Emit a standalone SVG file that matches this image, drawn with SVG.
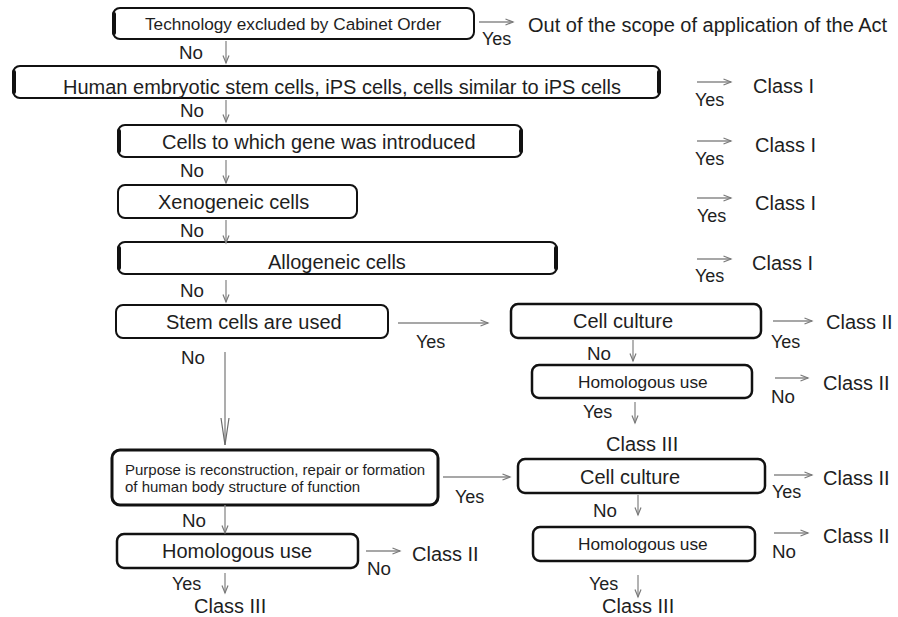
<svg xmlns="http://www.w3.org/2000/svg" width="898" height="617" viewBox="0 0 898 617">
<style>
.box{fill:#fff;stroke:#111;stroke-width:2}
.thick{stroke:#111;stroke-width:4;fill:none;stroke-linecap:round}
.t{font-family:"Liberation Sans",Arial,sans-serif;font-size:20px;fill:#1e1e1e}
.s{font-family:"Liberation Sans",Arial,sans-serif;font-size:17.3px;fill:#1e1e1e}
.p{font-family:"Liberation Sans",Arial,sans-serif;font-size:15px;fill:#1e1e1e}
.a{stroke:#8a8a8a;stroke-width:1.3;fill:none;marker-end:url(#ah)}
</style>
<defs>
<marker id="ah" markerUnits="userSpaceOnUse" markerWidth="10" markerHeight="8" refX="8" refY="4" orient="auto">
<path d="M0.5,1 L8,4 L0.5,7" fill="none" stroke="#7a7a7a" stroke-width="1.2"/>
</marker>
</defs>
<rect width="898" height="617" fill="#fff"/>

<g id="n1">
<rect class="box" x="113" y="8" width="361" height="31" rx="7"/>
<path class="thick" d="M114,14 V33"/>
<text class="t" x="145" y="30" style="font-size:17.2px">Technology excluded by Cabinet Order</text>
</g>
<g id="o1"><text class="t" x="528" y="32">Out of the scope of application of the Act</text></g>

<g id="n2">
<rect class="box" x="13" y="66" width="647" height="32" rx="7"/>
<path class="thick" d="M14,72 V92 M659,72 V92"/>
<text class="t" x="63" y="94">Human embryotic stem cells, iPS cells, cells similar to iPS cells</text>
</g>

<g id="n3">
<rect class="box" x="118" y="125" width="404" height="32" rx="7"/>
<path class="thick" d="M119,131 V151 M521,131 V151"/>
<text class="t" x="162" y="149">Cells to which gene was introduced</text>
</g>

<g id="n4">
<rect class="box" x="118" y="185" width="239" height="33" rx="7"/>
<text class="t" x="158" y="209">Xenogeneic cells</text>
</g>

<g id="n5">
<rect class="box" x="118" y="242" width="439" height="32" rx="7"/>
<path class="thick" d="M119,248 V268 M556,248 V268"/>
<text class="t" x="268" y="269">Allogeneic cells</text>
</g>

<g id="n6">
<rect class="box" x="116" y="305" width="272" height="33" rx="7"/>
<text class="t" x="166" y="329">Stem cells are used</text>
</g>

<g id="n7">
<rect class="box" x="511" y="304" width="250" height="34" rx="7" style="stroke-width:2.5"/>
<text class="t" x="573" y="328">Cell culture</text>
</g>

<g id="n8">
<rect class="box" x="532" y="365" width="220" height="33" rx="7" style="stroke-width:2.5"/>
<text class="s" x="578" y="388">Homologous use</text>
</g>

<g id="n9">
<rect class="box" x="112" y="450" width="326" height="55" rx="8" style="stroke-width:3"/>
<text class="p" x="125" y="475">Purpose is reconstruction, repair or formation</text>
<text class="p" x="125" y="492">of human body structure of function</text>
</g>

<g id="n10">
<rect class="box" x="518" y="459" width="247" height="34" rx="7" style="stroke-width:2.5"/>
<text class="t" x="580" y="484">Cell culture</text>
</g>

<g id="n11">
<rect class="box" x="117" y="534" width="241" height="34" rx="7" style="stroke-width:2.5"/>
<text class="t" x="162" y="558">Homologous use</text>
</g>

<g id="n12">
<rect class="box" x="533" y="527" width="222" height="34" rx="7" style="stroke-width:2.5"/>
<text class="s" x="578" y="550">Homologous use</text>
</g>

<g id="results">
<text class="t" x="753" y="93">Class I</text>
<text class="t" x="755" y="152">Class I</text>
<text class="t" x="755" y="210">Class I</text>
<text class="t" x="752" y="270">Class I</text>
<text class="t" x="826" y="329">Class II</text>
<text class="t" x="823" y="390">Class II</text>
<text class="t" x="606" y="451">Class III</text>
<text class="t" x="823" y="485">Class II</text>
<text class="t" x="823" y="543">Class II</text>
<text class="t" x="602" y="613">Class III</text>
<text class="t" x="412" y="561">Class II</text>
<text class="t" x="194" y="613">Class III</text>
</g>

<g id="connectors">
<path class="a" d="M479,22 H513"/>
<path class="a" d="M226,41 V63"/>
<path class="a" d="M697,82 H731"/>
<path class="a" d="M226,100 V122"/>
<path class="a" d="M697,141 H731"/>
<path class="a" d="M226,160 V183"/>
<path class="a" d="M697,198 H731"/>
<path class="a" d="M226,220 V243"/>
<path class="a" d="M697,259 H731"/>
<path class="a" d="M226,280 V302"/>
<path class="a" d="M398,323 H488"/>
<path class="a" d="M773,321 H812"/>
<path class="a" d="M633,340 V361"/>
<path class="a" d="M775,378 H808"/>
<path class="a" d="M635,402 V423"/>
<path d="M225,352 V445" stroke="#8a8a8a" stroke-width="1.4" fill="none"/>
<path d="M221,418 L225,445 L229,418" stroke="#6a6a6a" stroke-width="1.2" fill="none"/>
<path class="a" d="M443,477 H510"/>
<path class="a" d="M774,475 H812"/>
<path class="a" d="M638,495 V515"/>
<path class="a" d="M774,533 H808"/>
<path class="a" d="M638,575 V597"/>
<path class="a" d="M225,505 V533"/>
<path class="a" d="M366,551 H400"/>
<path class="a" d="M225,573 V593"/>
</g>

<g id="labels">
<text class="t" x="482" y="45" style="font-size:18px">Yes</text>
<text class="t" x="179" y="59" style="font-size:18.8px">No</text>
<text class="t" x="695" y="106" style="font-size:18px">Yes</text>
<text class="t" x="180" y="117" style="font-size:18.8px">No</text>
<text class="t" x="695" y="165" style="font-size:18px">Yes</text>
<text class="t" x="180" y="177" style="font-size:18.8px">No</text>
<text class="t" x="697" y="222" style="font-size:18px">Yes</text>
<text class="t" x="180" y="237" style="font-size:18.8px">No</text>
<text class="t" x="695" y="282" style="font-size:18px">Yes</text>
<text class="t" x="180" y="297" style="font-size:18.8px">No</text>
<text class="t" x="416" y="348" style="font-size:18px">Yes</text>
<text class="t" x="771" y="348" style="font-size:18px">Yes</text>
<text class="t" x="181" y="364" style="font-size:18.8px">No</text>
<text class="t" x="587" y="360" style="font-size:18.8px">No</text>
<text class="t" x="771" y="403" style="font-size:18.8px">No</text>
<text class="t" x="583" y="418" style="font-size:18px">Yes</text>
<text class="t" x="455" y="503" style="font-size:18px">Yes</text>
<text class="t" x="772" y="498" style="font-size:18px">Yes</text>
<text class="t" x="593" y="517" style="font-size:18.8px">No</text>
<text class="t" x="772" y="558" style="font-size:18.8px">No</text>
<text class="t" x="589" y="590" style="font-size:18px">Yes</text>
<text class="t" x="182" y="527" style="font-size:18.8px">No</text>
<text class="t" x="367" y="575" style="font-size:18.8px">No</text>
<text class="t" x="172" y="590" style="font-size:18px">Yes</text>
</g>
</svg>
